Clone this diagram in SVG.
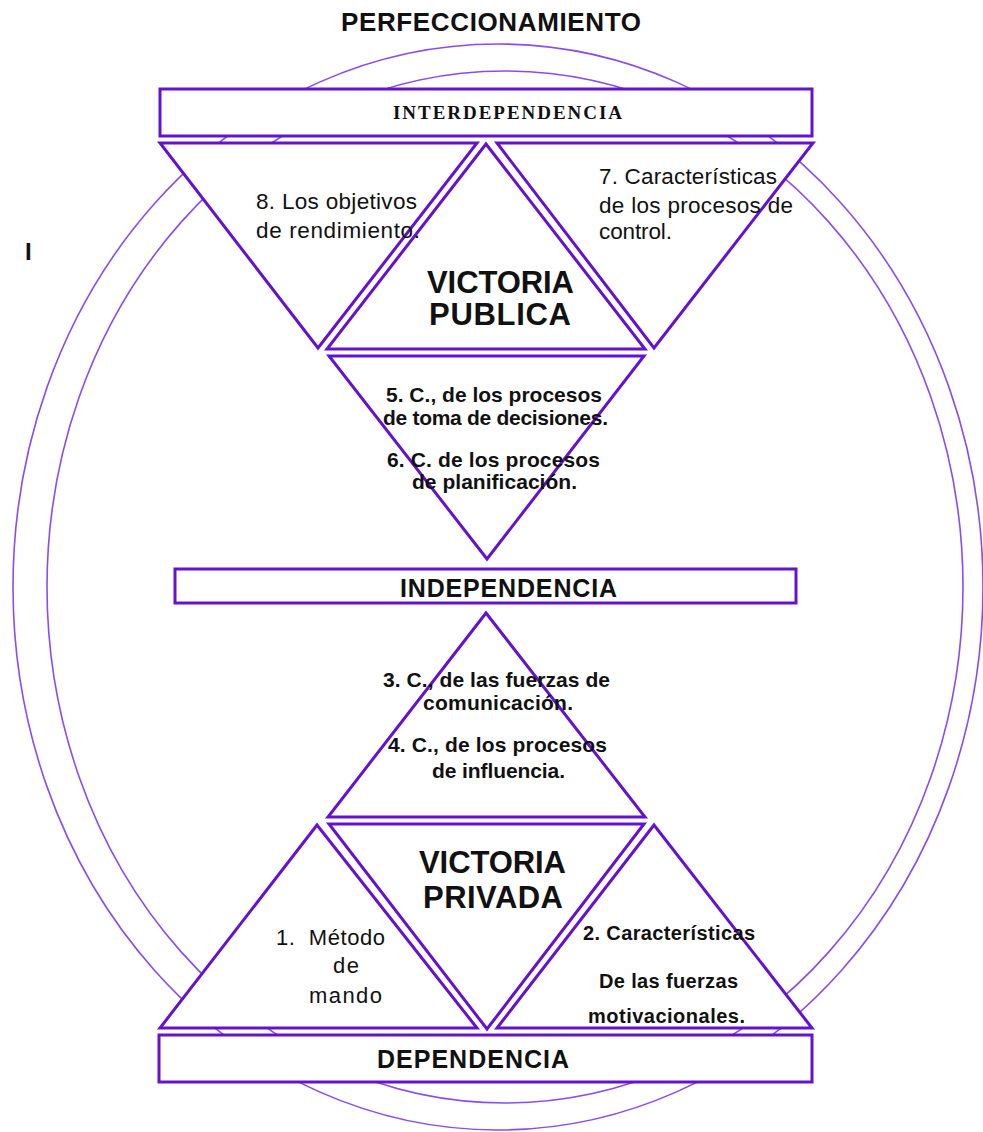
<svg xmlns="http://www.w3.org/2000/svg" width="983" height="1132" viewBox="0 0 983 1132">
<style>
.ring{fill:none;stroke:#8a4cf0;stroke-width:1.6}
.shape{fill:#ffffff;stroke:#6312cf;stroke-width:3;stroke-linejoin:miter}
.t{font-family:"Liberation Sans",Arial,sans-serif;fill:#111111}
.b{font-weight:bold}
.serif{font-family:"Liberation Serif","Times New Roman",serif;font-weight:bold;fill:#111111}
</style>
<rect width="983" height="1132" fill="#ffffff"/>
<g id="rings">
<ellipse class="ring" cx="498" cy="587" rx="485" ry="543"/>
<ellipse class="ring" cx="505" cy="587" rx="458" ry="516"/>
</g>
<g id="title">
<text class="t b" x="341" y="31" font-size="26" textLength="300" lengthAdjust="spacing">PERFECCIONAMIENTO</text>
<text class="t b" x="25" y="260" font-size="24">I</text>
</g>
<g id="interdependencia">
<rect class="shape" x="160" y="89" width="652" height="47"/>
<text class="serif" x="393" y="119" font-size="19" textLength="229" lengthAdjust="spacing">INTERDEPENDENCIA</text>
</g>
<g id="victoria-publica">
<polygon class="shape" points="486,144 327,349 645,349"/>
<text class="t b" x="427" y="293" font-size="31" textLength="147" lengthAdjust="spacing">VICTORIA</text>
<text class="t b" x="429" y="325" font-size="31" textLength="142" lengthAdjust="spacing">PUBLICA</text>
</g>
<g id="objetivos">
<polygon class="shape" points="160,143 477,143 318,348"/>
<text class="t" x="256" y="209" font-size="22.5" textLength="161" lengthAdjust="spacing">8. Los objetivos</text>
<text class="t" x="256" y="238" font-size="22.5" textLength="164" lengthAdjust="spacing">de rendimiento.</text>
</g>
<g id="control">
<polygon class="shape" points="497,143 813,143 654,348"/>
<text class="t" x="599" y="184" font-size="22.5" textLength="178" lengthAdjust="spacing">7. Características</text>
<text class="t" x="599" y="213" font-size="22.5" textLength="194" lengthAdjust="spacing">de los procesos de</text>
<text class="t" x="599" y="239" font-size="22.5" textLength="73" lengthAdjust="spacing">control.</text>
</g>
<g id="decisiones">
<polygon class="shape" points="329,356 644,356 487,559"/>
<text class="t b" x="386" y="402" font-size="21" textLength="216" lengthAdjust="spacing">5. C., de los procesos</text>
<text class="t b" x="383" y="425" font-size="21" textLength="225" lengthAdjust="spacing">de toma de decisiones.</text>
<text class="t b" x="387" y="467" font-size="21" textLength="213" lengthAdjust="spacing">6. C. de los procesos</text>
<text class="t b" x="412" y="489" font-size="21" textLength="165" lengthAdjust="spacing">de planificación.</text>
</g>
<g id="independencia">
<rect class="shape" x="175" y="569" width="621" height="34"/>
<text class="t b" x="400" y="597" font-size="25" textLength="217" lengthAdjust="spacing">INDEPENDENCIA</text>
</g>
<g id="comunicacion">
<polygon class="shape" points="486,613 328,817 645,817"/>
<text class="t b" x="383" y="687" font-size="21" textLength="227" lengthAdjust="spacing">3. C., de las fuerzas de</text>
<text class="t b" x="423" y="710" font-size="21" textLength="150" lengthAdjust="spacing">comunicación.</text>
<text class="t b" x="388" y="752" font-size="21" textLength="219" lengthAdjust="spacing">4. C., de los procesos</text>
<text class="t b" x="432" y="778" font-size="21" textLength="133" lengthAdjust="spacing">de influencia.</text>
</g>
<g id="victoria-privada">
<polygon class="shape" points="329,824 644,824 487,1029"/>
<text class="t b" x="419" y="873" font-size="31" textLength="147" lengthAdjust="spacing">VICTORIA</text>
<text class="t b" x="423" y="908" font-size="31" textLength="140" lengthAdjust="spacing">PRIVADA</text>
</g>
<g id="mando">
<polygon class="shape" points="317,825 160,1028 477,1028"/>
<text class="t" x="276" y="945" font-size="22" textLength="109" lengthAdjust="spacing" xml:space="preserve">1.  Método</text>
<text class="t" x="333" y="973" font-size="22" textLength="26" lengthAdjust="spacing">de</text>
<text class="t" x="309" y="1003" font-size="22" textLength="73" lengthAdjust="spacing">mando</text>
</g>
<g id="motivacionales">
<polygon class="shape" points="654,825 497,1028 812,1028"/>
<text class="t b" x="583" y="940" font-size="20" textLength="172" lengthAdjust="spacing">2. Características</text>
<text class="t b" x="599" y="988" font-size="20" textLength="139" lengthAdjust="spacing">De las fuerzas</text>
<text class="t b" x="588" y="1023" font-size="20" textLength="157" lengthAdjust="spacing">motivacionales.</text>
</g>
<g id="dependencia">
<rect class="shape" x="159" y="1035" width="653" height="47"/>
<text class="t b" x="377" y="1068" font-size="25" textLength="192" lengthAdjust="spacing">DEPENDENCIA</text>
</g>
<g id="connectors"/>
</svg>
